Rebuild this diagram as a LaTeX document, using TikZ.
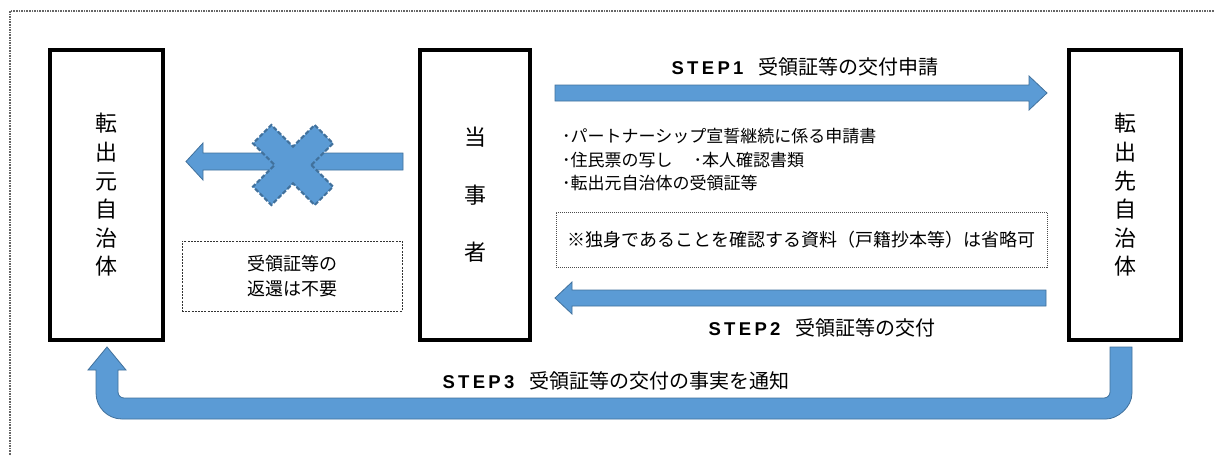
\documentclass[tikz,border=0pt]{standalone}
\usepackage{fontspec}
\setmainfont{Noto Sans CJK JP}
\newfontfamily\stepfont{Liberation Sans}[LetterSpace=18]
\definecolor{afill}{RGB}{91,155,213}
\definecolor{aline}{RGB}{65,113,156}
\newcommand{\steptag}[1]{{\stepfont\fontsize{18.5}{20}\selectfont\bfseries #1}}
\begin{document}
\begin{tikzpicture}[x=1pt,y=-1pt,
  frame/.style={draw=black!60, densely dotted, line width=1.6pt},
  entity/.style={draw=black, line width=4pt, inner sep=0pt, align=center,
    font=\fontsize{22}{28.6}\selectfont},
  notebox/.style={draw=black!70, densely dotted, line width=1pt, inner sep=0pt,
    font=\fontsize{18}{21}\selectfont},
  retbox/.style={draw=black!80, dash pattern=on 2pt off 1.2pt, line width=0.9pt,
    inner sep=0pt, align=center, font=\fontsize{18}{25}\selectfont},
  blockarrow/.style={fill=afill, draw=aline, line width=0.8pt, line join=miter},
  crossmark/.style={fill=afill, draw=aline, line width=2pt, dash pattern=on 4.5pt off 2pt},
  steplabel/.style={inner sep=0pt, font=\fontsize{20}{24}\selectfont},
  bullets/.style={inner sep=0pt, align=left, font=\fontsize{17}{23.5}\selectfont}
]
\useasboundingbox (0,0) rectangle (1214,455);
\clip (0,0) rectangle (1214,455);
\fill[white] (0,0) rectangle (1214,455);
\draw[frame] (10,11) rectangle (1240,480);

% entity boxes
\node[entity, minimum width=113pt, minimum height=290pt] (src) at (106.5,195)
  {転\\出\\元\\自\\治\\体};
\node[entity, minimum width=110pt, minimum height=290pt, font=\fontsize{22}{57.5}\selectfont]
  (party) at (475,195) {当\\事\\者};
\node[entity, minimum width=112pt, minimum height=290pt] (dst) at (1125,195)
  {転\\出\\先\\自\\治\\体};

% STEP1 arrow (party -> dst)
\filldraw[blockarrow] (555,85) -- (1029,85) -- (1029,76) -- (1047,93) -- (1029,110)
  -- (1029,101) -- (555,101) -- cycle;
\node[steplabel] (s1) at (805,67)
  {\steptag{STEP1}\hspace{15pt}受領証等の交付申請};

% documents list
\node[bullets, anchor=west] (docs) at (562,160)
  {･パートナーシップ宣誓継続に係る申請書\\･住民票の写し　 ･本人確認書類\\･転出元自治体の受領証等};

% note box
\node[notebox, minimum width=491pt, minimum height=55pt] (note) at (801.5,239.5)
  {※独身であることを確認する資料（戸籍抄本等）は省略可};

% STEP2 arrow (dst -> party)
\filldraw[blockarrow] (1046,290) -- (572,290) -- (572,282) -- (555,298) -- (572,314)
  -- (572,306) -- (1046,306) -- cycle;
\node[steplabel] (s2) at (822,328)
  {\steptag{STEP2}\hspace{15pt}受領証等の交付};

% crossed arrow (party -> src)
\filldraw[blockarrow] (403,153) -- (203,153) -- (203,143) -- (186,161.5) -- (203,180)
  -- (203,170) -- (403,170) -- cycle;
\begin{scope}[shift={(293,165)}, rotate=45]
  \filldraw[crossmark] (13,13) -- (43.6,13) -- (43.6,-13) -- (13,-13) -- (13,-43.6)
    -- (-13,-43.6) -- (-13,-13) -- (-43.6,-13) -- (-43.6,13) -- (-13,13)
    -- (-13,43.6) -- (13,43.6) -- cycle;
\end{scope}

% return-not-needed box
\node[retbox, minimum width=220pt, minimum height=70pt] (ret) at (292,276)
  {受領証等の\\返還は不要};

% STEP3 U-arrow (dst -> src)
\filldraw[blockarrow] (1110,347) -- (1132,347) -- (1132,393)
  .. controls (1132,407.35) and (1117.35,419) .. (1106,419)
  -- (122,419) .. controls (107.65,419) and (96,407.35) .. (96,393)
  -- (96,370) -- (88,370) -- (107,347) -- (126,370) -- (118,370) -- (118,392)
  .. controls (118,395.3) and (120.7,398) .. (124,398)
  -- (1104,398) .. controls (1107.3,398) and (1110,395.3) .. (1110,392) -- cycle;
\node[steplabel] (s3) at (616,381)
  {\steptag{STEP3}\hspace{15pt}受領証等の交付の事実を通知};
\end{tikzpicture}
\end{document}
